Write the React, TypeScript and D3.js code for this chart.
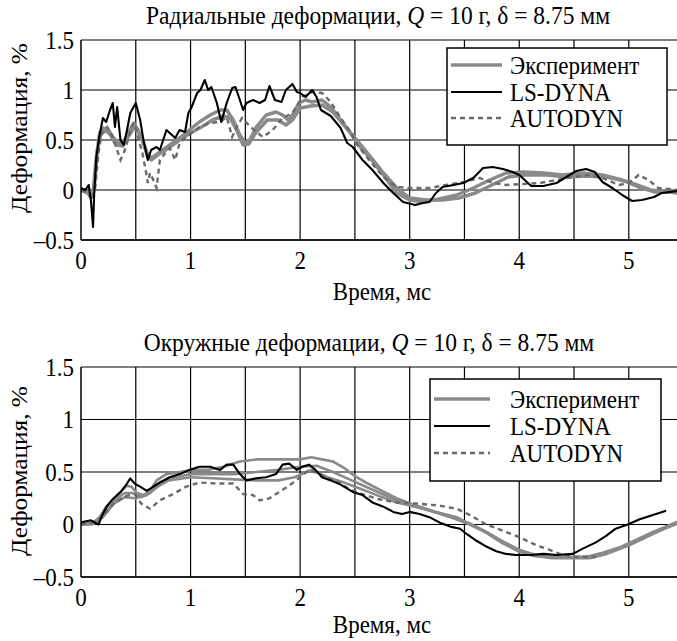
import React, { useEffect, useRef } from "react";
import * as d3 from "d3";

// data: [time ms, strain %]
const radialExpA = [
  [0, 0], [0.05, -0.02], [0.1, -0.07], [0.11, -0.03], [0.14, 0.33], [0.17, 0.57], [0.2, 0.62], [0.25, 0.6],
  [0.29, 0.53], [0.34, 0.47], [0.39, 0.47], [0.43, 0.57], [0.48, 0.67], [0.52, 0.6], [0.57, 0.47], [0.61, 0.33],
  [0.66, 0.33], [0.72, 0.38], [0.81, 0.45], [0.9, 0.52], [0.99, 0.6], [1.08, 0.68], [1.18, 0.75], [1.27, 0.8],
  [1.33, 0.8], [1.39, 0.7], [1.45, 0.55], [1.5, 0.47], [1.54, 0.5], [1.6, 0.63], [1.69, 0.75], [1.78, 0.78],
  [1.84, 0.75], [1.89, 0.7], [1.93, 0.75], [1.99, 0.87], [2.05, 0.9], [2.11, 0.88], [2.2, 0.9], [2.28, 0.83],
  [2.37, 0.7], [2.46, 0.57], [2.52, 0.47], [2.63, 0.33], [2.76, 0.15], [2.88, -0.03], [3.0, -0.1], [3.12, -0.12],
  [3.27, -0.09], [3.43, -0.05], [3.58, 0.02], [3.73, 0.1], [3.88, 0.17], [4.03, 0.18], [4.22, 0.17], [4.4, 0.15],
  [4.58, 0.17], [4.76, 0.15], [4.94, 0.1], [5.09, 0.03], [5.24, -0.02], [5.45, -0.02],
];
const radialExpB = [
  [0, 0], [0.1, -0.05], [0.12, 0.0], [0.15, 0.4], [0.18, 0.55], [0.22, 0.6], [0.27, 0.55], [0.32, 0.45],
  [0.38, 0.44], [0.44, 0.55], [0.49, 0.63], [0.54, 0.55], [0.6, 0.38], [0.64, 0.3], [0.7, 0.35], [0.8, 0.42],
  [0.9, 0.5], [1.0, 0.57], [1.1, 0.63], [1.2, 0.7], [1.3, 0.74], [1.36, 0.72], [1.42, 0.6], [1.48, 0.45],
  [1.53, 0.46], [1.6, 0.58], [1.7, 0.7], [1.8, 0.7], [1.87, 0.65], [1.93, 0.7], [2.0, 0.82], [2.1, 0.84],
  [2.2, 0.85], [2.3, 0.78], [2.4, 0.65], [2.5, 0.52], [2.63, 0.35], [2.76, 0.17], [2.9, 0.0], [3.0, -0.08],
  [3.15, -0.1], [3.3, -0.1], [3.45, -0.08], [3.6, -0.03], [3.75, 0.05], [3.9, 0.13], [4.05, 0.15], [4.25, 0.15],
  [4.45, 0.13], [4.6, 0.14], [4.8, 0.13], [5.0, 0.08], [5.2, 0.0], [5.45, -0.03],
];
const radialLsDyna = [
  [0, 0.02], [0.04, 0.0], [0.07, 0.05], [0.09, -0.1], [0.11, -0.37], [0.12, -0.05], [0.14, 0.33], [0.17, 0.55],
  [0.2, 0.72], [0.23, 0.68], [0.265, 0.8], [0.29, 0.87], [0.31, 0.63], [0.33, 0.83], [0.36, 0.5], [0.39, 0.45],
  [0.42, 0.6], [0.45, 0.77], [0.5, 0.87], [0.54, 0.7], [0.57, 0.5], [0.61, 0.3], [0.64, 0.4], [0.69, 0.43],
  [0.72, 0.4], [0.78, 0.6], [0.81, 0.57], [0.86, 0.52], [0.9, 0.6], [0.95, 0.58], [0.98, 0.77], [1.01, 0.83],
  [1.06, 0.97], [1.09, 1.0], [1.13, 1.1], [1.16, 1.0], [1.19, 1.03], [1.24, 0.87], [1.28, 0.68], [1.33, 0.87],
  [1.38, 1.02], [1.41, 1.03], [1.45, 0.9], [1.48, 0.8], [1.51, 0.87], [1.57, 0.9], [1.63, 0.87], [1.68, 0.9],
  [1.72, 1.04], [1.77, 0.9], [1.83, 0.88], [1.87, 1.0], [1.93, 1.06], [1.97, 0.98], [2.0, 0.97], [2.05, 0.93],
  [2.11, 1.0], [2.15, 0.93], [2.19, 0.8], [2.28, 0.74], [2.37, 0.62], [2.43, 0.47], [2.48, 0.43], [2.57, 0.3],
  [2.66, 0.2], [2.76, 0.07], [2.85, -0.03], [2.94, -0.12], [3.05, -0.15], [3.12, -0.13], [3.18, -0.12],
  [3.24, -0.03], [3.3, 0.03], [3.4, 0.05], [3.49, 0.07], [3.58, 0.12], [3.67, 0.22], [3.76, 0.23], [3.85, 0.21],
  [3.94, 0.18], [4.0, 0.15], [4.07, 0.08], [4.11, 0.04], [4.22, 0.04], [4.34, 0.07], [4.43, 0.13], [4.52, 0.19],
  [4.61, 0.21], [4.69, 0.18], [4.76, 0.08], [4.85, 0.02], [4.94, -0.05], [5.03, -0.11], [5.12, -0.1],
  [5.23, -0.07], [5.3, -0.03], [5.45, -0.01],
];
const radialAutodyn = [
  [0, 0], [0.06, -0.03], [0.1, -0.1], [0.13, 0.03], [0.16, 0.37], [0.19, 0.58], [0.24, 0.63], [0.29, 0.53],
  [0.33, 0.4], [0.36, 0.3], [0.39, 0.37], [0.42, 0.47], [0.46, 0.63], [0.49, 0.67], [0.52, 0.53], [0.56, 0.37],
  [0.59, 0.2], [0.61, 0.07], [0.63, 0.17], [0.66, 0.1], [0.69, 0.02], [0.72, 0.3], [0.77, 0.37], [0.81, 0.42],
  [0.86, 0.3], [0.9, 0.47], [0.96, 0.53], [1.02, 0.58], [1.08, 0.63], [1.18, 0.67], [1.27, 0.68], [1.33, 0.73],
  [1.38, 0.53], [1.42, 0.63], [1.47, 0.72], [1.53, 0.65], [1.6, 0.58], [1.66, 0.53], [1.75, 0.6], [1.84, 0.72],
  [1.93, 0.77], [2.02, 0.93], [2.11, 0.98], [2.2, 0.97], [2.28, 0.88], [2.37, 0.72], [2.46, 0.58], [2.51, 0.47],
  [2.63, 0.3], [2.76, 0.13], [2.88, 0.03], [3.0, 0.02], [3.18, 0.02], [3.33, 0.05], [3.49, 0.08], [3.64, 0.12],
  [3.76, 0.07], [3.88, 0.05], [4.03, 0.06], [4.19, 0.07], [4.34, 0.1], [4.49, 0.13], [4.64, 0.15], [4.76, 0.12],
  [4.91, 0.05], [5.0, 0.07], [5.09, 0.15], [5.18, 0.1], [5.27, 0.02], [5.45, 0.0],
];

const circExpA = [
  [0, 0], [0.11, 0.02], [0.17, 0.07], [0.23, 0.17], [0.31, 0.23], [0.37, 0.32], [0.42, 0.37], [0.46, 0.36],
  [0.51, 0.3], [0.57, 0.28], [0.63, 0.32], [0.69, 0.42], [0.78, 0.48], [0.9, 0.5], [1.02, 0.52], [1.15, 0.52],
  [1.3, 0.55], [1.45, 0.6], [1.6, 0.62], [1.8, 0.62], [2.0, 0.62], [2.1, 0.64], [2.2, 0.62], [2.3, 0.6],
  [2.4, 0.54], [2.5, 0.46], [2.6, 0.4], [2.73, 0.33], [2.88, 0.25], [3.06, 0.18], [3.24, 0.12], [3.43, 0.07],
  [3.55, 0.0], [3.7, -0.07], [3.85, -0.17], [4.0, -0.25], [4.13, -0.3], [4.28, -0.31], [4.46, -0.31],
  [4.61, -0.31], [4.76, -0.27], [4.91, -0.22], [5.06, -0.15], [5.22, -0.07], [5.45, 0.03],
];
const circExpB = [
  [0, 0], [0.1, 0.0], [0.17, 0.05], [0.25, 0.15], [0.33, 0.25], [0.4, 0.3], [0.47, 0.3], [0.55, 0.26],
  [0.63, 0.3], [0.72, 0.4], [0.85, 0.45], [1.0, 0.48], [1.2, 0.48], [1.4, 0.48], [1.6, 0.5], [1.8, 0.52],
  [2.0, 0.55], [2.15, 0.56], [2.3, 0.5], [2.45, 0.43], [2.6, 0.36], [2.75, 0.29], [2.9, 0.22], [3.06, 0.17],
  [3.25, 0.11], [3.4, 0.06], [3.55, 0.0], [3.7, -0.08], [3.85, -0.18], [4.0, -0.26], [4.15, -0.3], [4.3, -0.32],
  [4.5, -0.32], [4.65, -0.32], [4.8, -0.28], [5.0, -0.2], [5.2, -0.1], [5.45, 0.02],
];
const circExpC = [
  [0, 0], [0.12, 0.01], [0.2, 0.07], [0.3, 0.2], [0.4, 0.26], [0.5, 0.25], [0.6, 0.28], [0.7, 0.36],
  [0.8, 0.42], [1.0, 0.45], [1.2, 0.44], [1.4, 0.43], [1.6, 0.42], [1.8, 0.42], [1.95, 0.45], [2.1, 0.52],
  [2.25, 0.45], [2.4, 0.4], [2.55, 0.34], [2.7, 0.28], [2.85, 0.22], [3.0, 0.18], [3.2, 0.13], [3.4, 0.07],
  [3.55, 0.01], [3.7, -0.07], [3.85, -0.16], [4.0, -0.24], [4.15, -0.29], [4.3, -0.31], [4.5, -0.31],
  [4.7, -0.3], [4.9, -0.23], [5.1, -0.14], [5.3, -0.05], [5.45, 0.01],
];
const circLsDyna = [
  [0, 0.02], [0.09, 0.04], [0.16, 0.0], [0.19, 0.08], [0.24, 0.18], [0.28, 0.23], [0.33, 0.28], [0.37, 0.32],
  [0.42, 0.39], [0.45, 0.44], [0.49, 0.39], [0.54, 0.36], [0.6, 0.32], [0.66, 0.36], [0.72, 0.4], [0.81, 0.45],
  [0.9, 0.48], [0.99, 0.52], [1.08, 0.55], [1.18, 0.55], [1.27, 0.52], [1.33, 0.57], [1.39, 0.57], [1.45, 0.48],
  [1.51, 0.42], [1.6, 0.44], [1.69, 0.45], [1.78, 0.48], [1.84, 0.57], [1.9, 0.58], [1.97, 0.52], [2.02, 0.55],
  [2.08, 0.57], [2.14, 0.52], [2.2, 0.45], [2.28, 0.42], [2.37, 0.38], [2.48, 0.31], [2.57, 0.28], [2.66, 0.21],
  [2.76, 0.17], [2.85, 0.12], [2.93, 0.1], [3.0, 0.12], [3.09, 0.1], [3.18, 0.07], [3.27, 0.02], [3.37, -0.02],
  [3.46, -0.04], [3.52, -0.09], [3.61, -0.155], [3.7, -0.21], [3.79, -0.255], [3.88, -0.28], [3.97, -0.29],
  [4.1, -0.29], [4.22, -0.28], [4.34, -0.29], [4.49, -0.28], [4.58, -0.23], [4.7, -0.17], [4.79, -0.11],
  [4.88, -0.04], [4.99, 0.0], [5.1, 0.05], [5.22, 0.09], [5.34, 0.13],
];
const circAutodyn = [
  [0, 0], [0.1, 0.02], [0.2, 0.08], [0.3, 0.2], [0.4, 0.27], [0.49, 0.29], [0.55, 0.2], [0.63, 0.15],
  [0.72, 0.23], [0.84, 0.29], [0.96, 0.36], [1.08, 0.4], [1.24, 0.39], [1.39, 0.39], [1.48, 0.29], [1.57, 0.28],
  [1.63, 0.23], [1.72, 0.25], [1.81, 0.31], [1.9, 0.37], [2.0, 0.45], [2.08, 0.52], [2.2, 0.47], [2.35, 0.4],
  [2.46, 0.33], [2.57, 0.29], [2.72, 0.24], [2.88, 0.21], [3.06, 0.2], [3.27, 0.18], [3.43, 0.15], [3.55, 0.09],
  [3.7, 0.0], [3.85, -0.06], [4.0, -0.12], [4.16, -0.2], [4.25, -0.23], [4.37, -0.28], [4.52, -0.31], [4.7, -0.31],
];

const xTicks = [0, 1, 2, 3, 4, 5];
const xGrid = [0.5, 1, 1.5, 2, 2.5, 3, 3.5, 4, 4.5, 5];
const yTicks = [-0.5, 0, 0.5, 1, 1.5];
const legendLabels = ["Эксперимент", "LS-DYNA", "AUTODYN"];

const FONT = "'Liberation Serif', 'Times New Roman', serif";
const GRAY = "#8a8a8a";
const DASH_GRAY = "#6a6a6a";
const FS = 23;
const STRETCH = 1.1; // glyphs in the source are taller than wide

// text centred vertically on (x, y), stretched a little in height
function label(parent, x, y, anchor, size = FS) {
  return parent.append("g")
    .attr("transform", `translate(${x},${y}) scale(1,${STRETCH})`)
    .append("text")
    .attr("dy", "0.34em")
    .attr("text-anchor", anchor)
    .attr("font-size", size);
}

function drawPanel(svg, p) {
  const x = d3.scaleLinear().domain([0, 5.44]).range([81, 677]);
  const y = d3.scaleLinear().domain([-0.5, 1.5]).range([p.bottom, p.top]);
  const g = svg.append("g");

  // title
  const title = label(g, p.titleX, p.titleY, "middle", 23.5);
  title.append("tspan").text(p.title + ", ");
  title.append("tspan").attr("font-style", "italic").text("Q");
  title.append("tspan").text(" = 10 г, δ = 8.75 мм");

  // grid
  g.append("g").selectAll("line").data(xGrid).join("line")
    .attr("x1", (d) => x(d)).attr("x2", (d) => x(d))
    .attr("y1", p.top).attr("y2", p.bottom)
    .attr("stroke", "#000").attr("stroke-width", 1.2);
  g.append("g").selectAll("line").data(yTicks).join("line")
    .attr("x1", 81).attr("x2", 677)
    .attr("y1", (d) => y(d)).attr("y2", (d) => y(d))
    .attr("stroke", "#000").attr("stroke-width", 1.2);

  // legend box goes over the grid, under the curves
  const lg = g.append("g");
  lg.append("rect")
    .attr("x", p.legend.x).attr("y", p.legend.y)
    .attr("width", p.legend.w).attr("height", p.legend.h)
    .attr("fill", "#fff").attr("stroke", "#000").attr("stroke-width", 1.5);

  const clipId = "clip-" + p.id;
  svg.append("clipPath").attr("id", clipId).append("rect")
    .attr("x", 81).attr("y", p.top - 5).attr("width", 596).attr("height", p.bottom - p.top + 5);

  const line = d3.line().x((d) => x(d[0])).y((d) => y(d[1]));
  const curves = g.append("g").attr("clip-path", `url(#${clipId})`);
  p.exp.forEach((s) => {
    curves.append("path").datum(s).attr("d", line)
      .attr("fill", "none").attr("stroke", GRAY).attr("stroke-width", p.expWidth)
      .attr("stroke-linejoin", "round");
  });
  curves.append("path").datum(p.autodyn).attr("d", line)
    .attr("fill", "none").attr("stroke", DASH_GRAY).attr("stroke-width", 2.4)
    .attr("stroke-dasharray", "5,4");
  curves.append("path").datum(p.lsdyna).attr("d", line)
    .attr("fill", "none").attr("stroke", "#000").attr("stroke-width", 2.1)
    .attr("stroke-linejoin", "round");

  // legend entries
  const styles = [
    { stroke: GRAY, w: 3.5, dash: null },
    { stroke: "#000", w: 2.2, dash: null },
    { stroke: DASH_GRAY, w: 2.4, dash: "5,4" },
  ];
  legendLabels.forEach((lab, i) => {
    const ly = p.legend.rows[i];
    lg.append("line")
      .attr("x1", p.legend.lx1).attr("x2", p.legend.lx2)
      .attr("y1", ly).attr("y2", ly)
      .attr("stroke", styles[i].stroke).attr("stroke-width", styles[i].w)
      .attr("stroke-dasharray", styles[i].dash);
    label(lg, 510, ly, "start").text(lab);
  });

  // axes
  g.append("line").attr("x1", 81).attr("x2", 81).attr("y1", p.top).attr("y2", p.bottom)
    .attr("stroke", "#000").attr("stroke-width", 1.5);
  g.append("line").attr("x1", 81).attr("x2", 677).attr("y1", p.bottom).attr("y2", p.bottom)
    .attr("stroke", "#000").attr("stroke-width", 1.5);

  yTicks.forEach((d) => {
    label(g, 74, y(d), "end").text(d < 0 ? "\u2013" + Math.abs(d) : String(d));
  });
  xTicks.forEach((d) => {
    label(g, x(d), p.bottom + 20, "middle").text(String(d));
  });

  label(g, 382, p.xLabelY, "middle").text("Время, мс");
  g.append("g")
    .attr("transform", `translate(19,${p.yLabelY}) scale(1,${STRETCH}) rotate(-90)`)
    .append("text")
    .attr("dy", "0.34em")
    .attr("text-anchor", "middle").attr("font-size", FS)
    .text("Деформация, %");
}

export default function App() {
  const ref = useRef(null);

  useEffect(() => {
    const svg = d3.select(ref.current);
    svg.selectAll("*").remove();
    svg.attr("font-family", FONT);

    drawPanel(svg, {
      id: "radial",
      title: "Радиальные деформации",
      titleX: 378,
      titleY: 15,
      top: 40,
      bottom: 240,
      xLabelY: 291,
      yLabelY: 128,
      exp: [radialExpB, radialExpA],
      expWidth: 3.5,
      lsdyna: radialLsDyna,
      autodyn: radialAutodyn,
      legend: { x: 447, y: 48, w: 220, h: 97, rows: [65, 92, 118], lx1: 451, lx2: 502 },
    });
    drawPanel(svg, {
      id: "circ",
      title: "Окружные деформации",
      titleX: 369,
      titleY: 342,
      top: 367,
      bottom: 577,
      xLabelY: 624,
      yLabelY: 471,
      exp: [circExpC, circExpB, circExpA],
      expWidth: 2.6,
      lsdyna: circLsDyna,
      autodyn: circAutodyn,
      legend: { x: 430, y: 379, w: 231, h: 102, rows: [399, 426, 453], lx1: 434, lx2: 490 },
    });
  }, []);

  return (
    <svg
      ref={ref}
      width={677}
      height={641}
      style={{ position: "absolute", left: 0, top: 0, background: "#fff" }}
    />
  );
}
